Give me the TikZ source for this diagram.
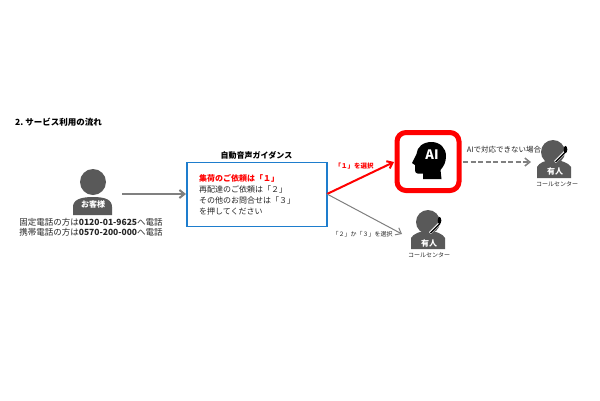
\documentclass[tikz,border=0pt]{standalone}
\usepackage{fontspec}
\usetikzlibrary{arrows.meta}
\setmainfont{Noto Sans CJK JP}
\begin{document}
\begin{tikzpicture}[x=1pt,y=-1pt,
  lbl/.style={inner sep=0pt,font=\fontsize{8}{10}\selectfont,text=black!85},
  tellbl/.style={inner sep=0pt,font=\fontsize{8.5}{10}\selectfont,text=black!85},
  small/.style={inner sep=0pt,font=\fontsize{6}{8}\selectfont,text=black!85},
  head/.style={fill=black!65,draw=none},
  flow/.style={-{Straight Barb[length=5pt,width=8pt]},draw=black!50}]
\useasboundingbox (0,0) rectangle (600,400);
\fill[white] (0,0) rectangle (600,400);
\node[inner sep=0pt,anchor=west,font=\fontsize{8.5}{10}\bfseries\selectfont] (title) at (15,122) {2.\ サービス利用の流れ};
% customer
\fill[head] (93,182) circle (13);
\fill[head] (73,215) -- (73,207) .. controls (73,200) and (80,197) .. (93,197) .. controls (106,197) and (112,200) .. (112,207) -- (112,215) -- cycle;
\node[inner sep=0pt,text=white,font=\fontsize{8}{10}\bfseries\selectfont] (cust) at (93,204.5) {お客様};
\node[tellbl,anchor=center] (tel1) at (91,222) {固定電話の方は\textbf{0120-01-9625}へ電話};
\node[tellbl,anchor=center] (tel2) at (91,232.5) {携帯電話の方は\textbf{0570-200-000}へ電話};
% guidance
\node[inner sep=0pt,font=\fontsize{8}{10}\bfseries\selectfont] (gt) at (256.5,155) {自動音声ガイダンス};
\node[draw={rgb,255:red,30;green,125;blue,205},line width=1.2pt,minimum width=140pt,minimum height=64pt,inner sep=0pt] (guide) at (257,194.5) {};
\node[lbl,anchor=west,text=red,font=\fontsize{8}{10}\bfseries\selectfont] (g1) at (199,178) {集荷のご依頼は「１」};
\node[lbl,anchor=west] (g2) at (199,189) {再配達のご依頼は「２」};
\node[lbl,anchor=west] (g3) at (199,200) {その他のお問合せは「３」};
\node[lbl,anchor=west] (g4) at (199,211) {を押してください};
\coordinate (custout) at (122,194);
\coordinate (custin) at (186,194);
\draw[flow,line width=2pt] (custout) -- (custin);
% AI box
\node[draw=red,line width=5pt,rounded corners=9pt,minimum width=62pt,minimum height=58pt,inner sep=0pt,fill=white] (ai) at (428,161.5) {};
\fill[black] (423,179) -- (441.5,179) -- (440.5,170) .. controls (444,166) and (446,162) .. (446,156) .. controls (446,148) and (440,142) .. (431.5,142) .. controls (423,142) and (417,147) .. (416.5,154) -- (412,163) -- (415,165) -- (415,170) .. controls (415,174) and (418,174) .. (423,173.5) -- cycle;
\node[inner sep=0pt,text=white,font=\fontsize{13}{15}\bfseries\selectfont] (ait) at (432,155) {AI};
% staff lower
\fill[head] (428,222) circle (12);
\fill[head] (411,249) -- (411,238) .. controls (413,234) and (420,231) .. (428,231) .. controls (436,231) and (443,234) .. (445,238) -- (445,249) -- cycle;
\draw[white,line width=2.8pt] (430,233) -- (440,223);
\draw[black,line width=1.3pt] (430.5,233) -- (440,223.5);
\fill[black] (439.5,220.5) ellipse (1.8 and 3.6);
\node[inner sep=0pt,text=white,font=\fontsize{8}{10}\bfseries\selectfont] (st1) at (429,243) {有人};
\node[small] (cc1) at (429,255) {コールセンター};
% staff right
\fill[head] (553,152) circle (12);
\fill[head] (537,178) -- (537,167) .. controls (539,163) and (545,160) .. (553,160) .. controls (561,160) and (569,163) .. (571,167) -- (571,178) -- cycle;
\draw[white,line width=2.8pt] (555,162) -- (565,152);
\draw[black,line width=1.3pt] (555.5,162) -- (565,152.5);
\fill[black] (565.5,149.5) ellipse (1.8 and 3.6);
\node[inner sep=0pt,text=white,font=\fontsize{8}{10}\bfseries\selectfont] (st2) at (555,171) {有人};
\node[small] (cc2) at (557,184) {コールセンター};
% connectors
\coordinate (o) at (327,194);
\coordinate (aiin) at (394,162);
\coordinate (aiout) at (463,162);
\coordinate (lowtip) at (402,234);
\coordinate (dashtip) at (531,162);
\draw[-{Straight Barb[length=5pt,width=8pt]},draw=red,line width=2pt] (o) -- (aiin);
\draw[flow,line width=1pt] (o) -- (lowtip);
\draw[flow,line width=1.5pt,dash pattern=on 5pt off 2.5pt] (aiout) -- (dashtip);
\node[small,text=red,font=\fontsize{6.5}{8}\bfseries\selectfont] (l1) at (354,166) {「１」を選択};
\node[small] (l2) at (362.5,234) {「２」か「３」を選択};
\node[small,font=\fontsize{7.5}{9}\selectfont] (l3) at (504,150) {AIで対応できない場合};
\end{tikzpicture}
\end{document}
